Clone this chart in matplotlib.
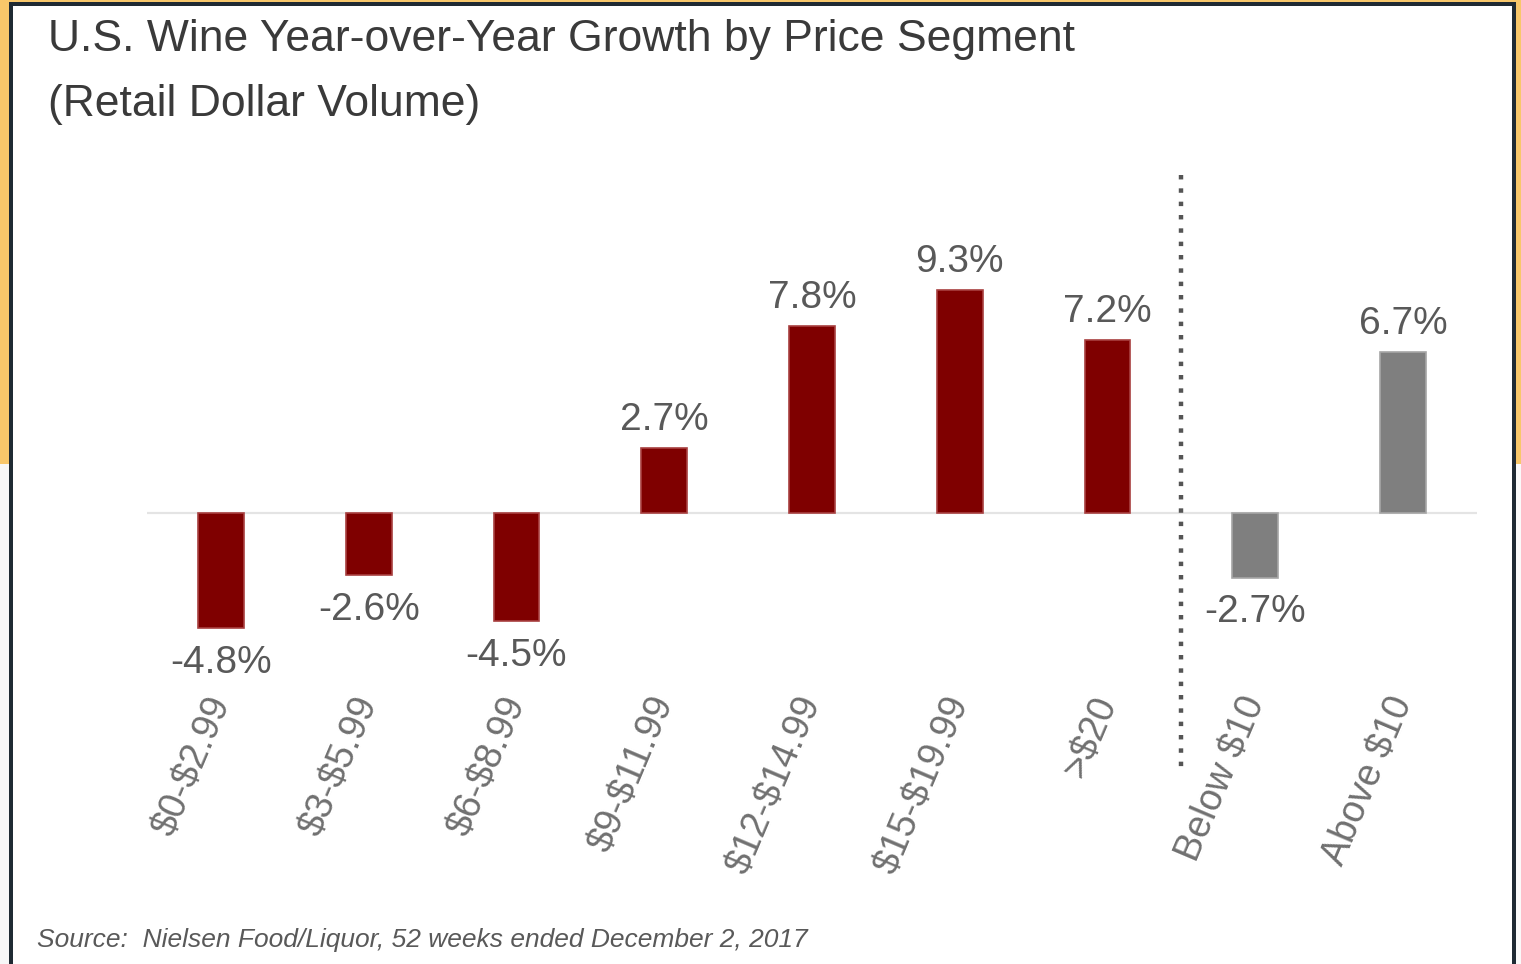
import matplotlib
matplotlib.use("Agg")
import matplotlib.pyplot as plt
from matplotlib.patches import Rectangle

categories = ["$0-$2.99", "$3-$5.99", "$6-$8.99", "$9-$11.99", "$12-$14.99",
              "$15-$19.99", ">$20", "Below $10", "Above $10"]
values = [-4.8, -2.6, -4.5, 2.7, 7.8, 9.3, 7.2, -2.7, 6.7]
value_labels = ["-4.8%", "-2.6%", "-4.5%", "2.7%", "7.8%", "9.3%", "7.2%", "-2.7%", "6.7%"]
bar_colors = ["#7f0000"] * 7 + ["#7f7f7f"] * 2
edge_colors = ["#a84040"] * 7 + ["#a6a6a6"] * 2

plt.rcParams['font.family'] = ['Liberation Sans', 'DejaVu Sans']

W, H = 1521, 964
fig = plt.figure(figsize=(W / 100, H / 100), dpi=100)
fig.patch.set_facecolor("#f8c76a")


def px_rect(x0, y0, x1, y1, color, z):
    fig.patches.append(Rectangle((x0 / W, 1 - y1 / H), (x1 - x0) / W, (y1 - y0) / H,
                                 transform=fig.transFigure, facecolor=color,
                                 edgecolor="none", zorder=z))


# lower side strips (below the yellow)
px_rect(0, 464, 9, H + 5, "#f7f7f7", -3)
px_rect(1516, 464, W, H + 5, "#fafafa", -3)
# dark frame and white panel
px_rect(9, 2, 1516, H + 5, "#1f2a33", -2)
px_rect(13, 6, 1512, H + 5, "#ffffff", -1)

ax = fig.add_axes([147 / W, 1 - 680 / H, (1477 - 147) / W, (680 - 170) / H])
ax.set_facecolor("none")
ax.set_xlim(-0.5, len(categories) - 0.5)
ax.set_ylim(-(680 - 513) / 24, (513 - 170) / 24)

xs = list(range(len(categories)))
ax.bar(xs, values, width=0.31, color=bar_colors, edgecolor=edge_colors,
       linewidth=1.2, zorder=3)
ax.axhline(0, color="#e4e4e4", lw=1.6, zorder=2)

for x, v, lab in zip(xs, values, value_labels):
    if v >= 0:
        ax.annotate(lab, (x, v), xytext=(0, 13), textcoords="offset points",
                    ha="center", va="baseline", fontsize=28, color="#595959")
    else:
        ax.annotate(lab, (x, v), xytext=(0, -12), textcoords="offset points",
                    ha="center", va="top", fontsize=28, color="#595959")

# dotted separator
ax.plot([6.5, 6.5], [(513 - 175) / 24, (513 - 775) / 24], color="#555555",
        lw=3.2, linestyle=(0, (1.0, 2.0)), clip_on=False, zorder=4)

ax.set_xticks(xs)
ax.set_xticklabels([c.replace("$", r"\$") for c in categories], rotation=67,
                   ha="right", va="center", rotation_mode="anchor",
                   fontsize=27, color="#707070")
ax.tick_params(axis="x", length=0, pad=13)
ax.set_yticks([])
for s in ax.spines.values():
    s.set_visible(False)

fig.text(48 / W, 1 - 40 / H, "U.S. Wine Year-over-Year Growth by Price Segment",
         fontsize=32, color="#3a3a3a", ha="left", va="center")
fig.text(48 / W, 1 - 104 / H, "(Retail Dollar Volume)",
         fontsize=32, color="#3a3a3a", ha="left", va="center")
fig.text(37 / W, 1 - 940 / H,
         "Source:  Nielsen Food/Liquor, 52 weeks ended December 2, 2017",
         fontsize=19, style="italic", color="#595959", ha="left", va="center")

fig.savefig("out.png", dpi=100, facecolor=fig.get_facecolor())
